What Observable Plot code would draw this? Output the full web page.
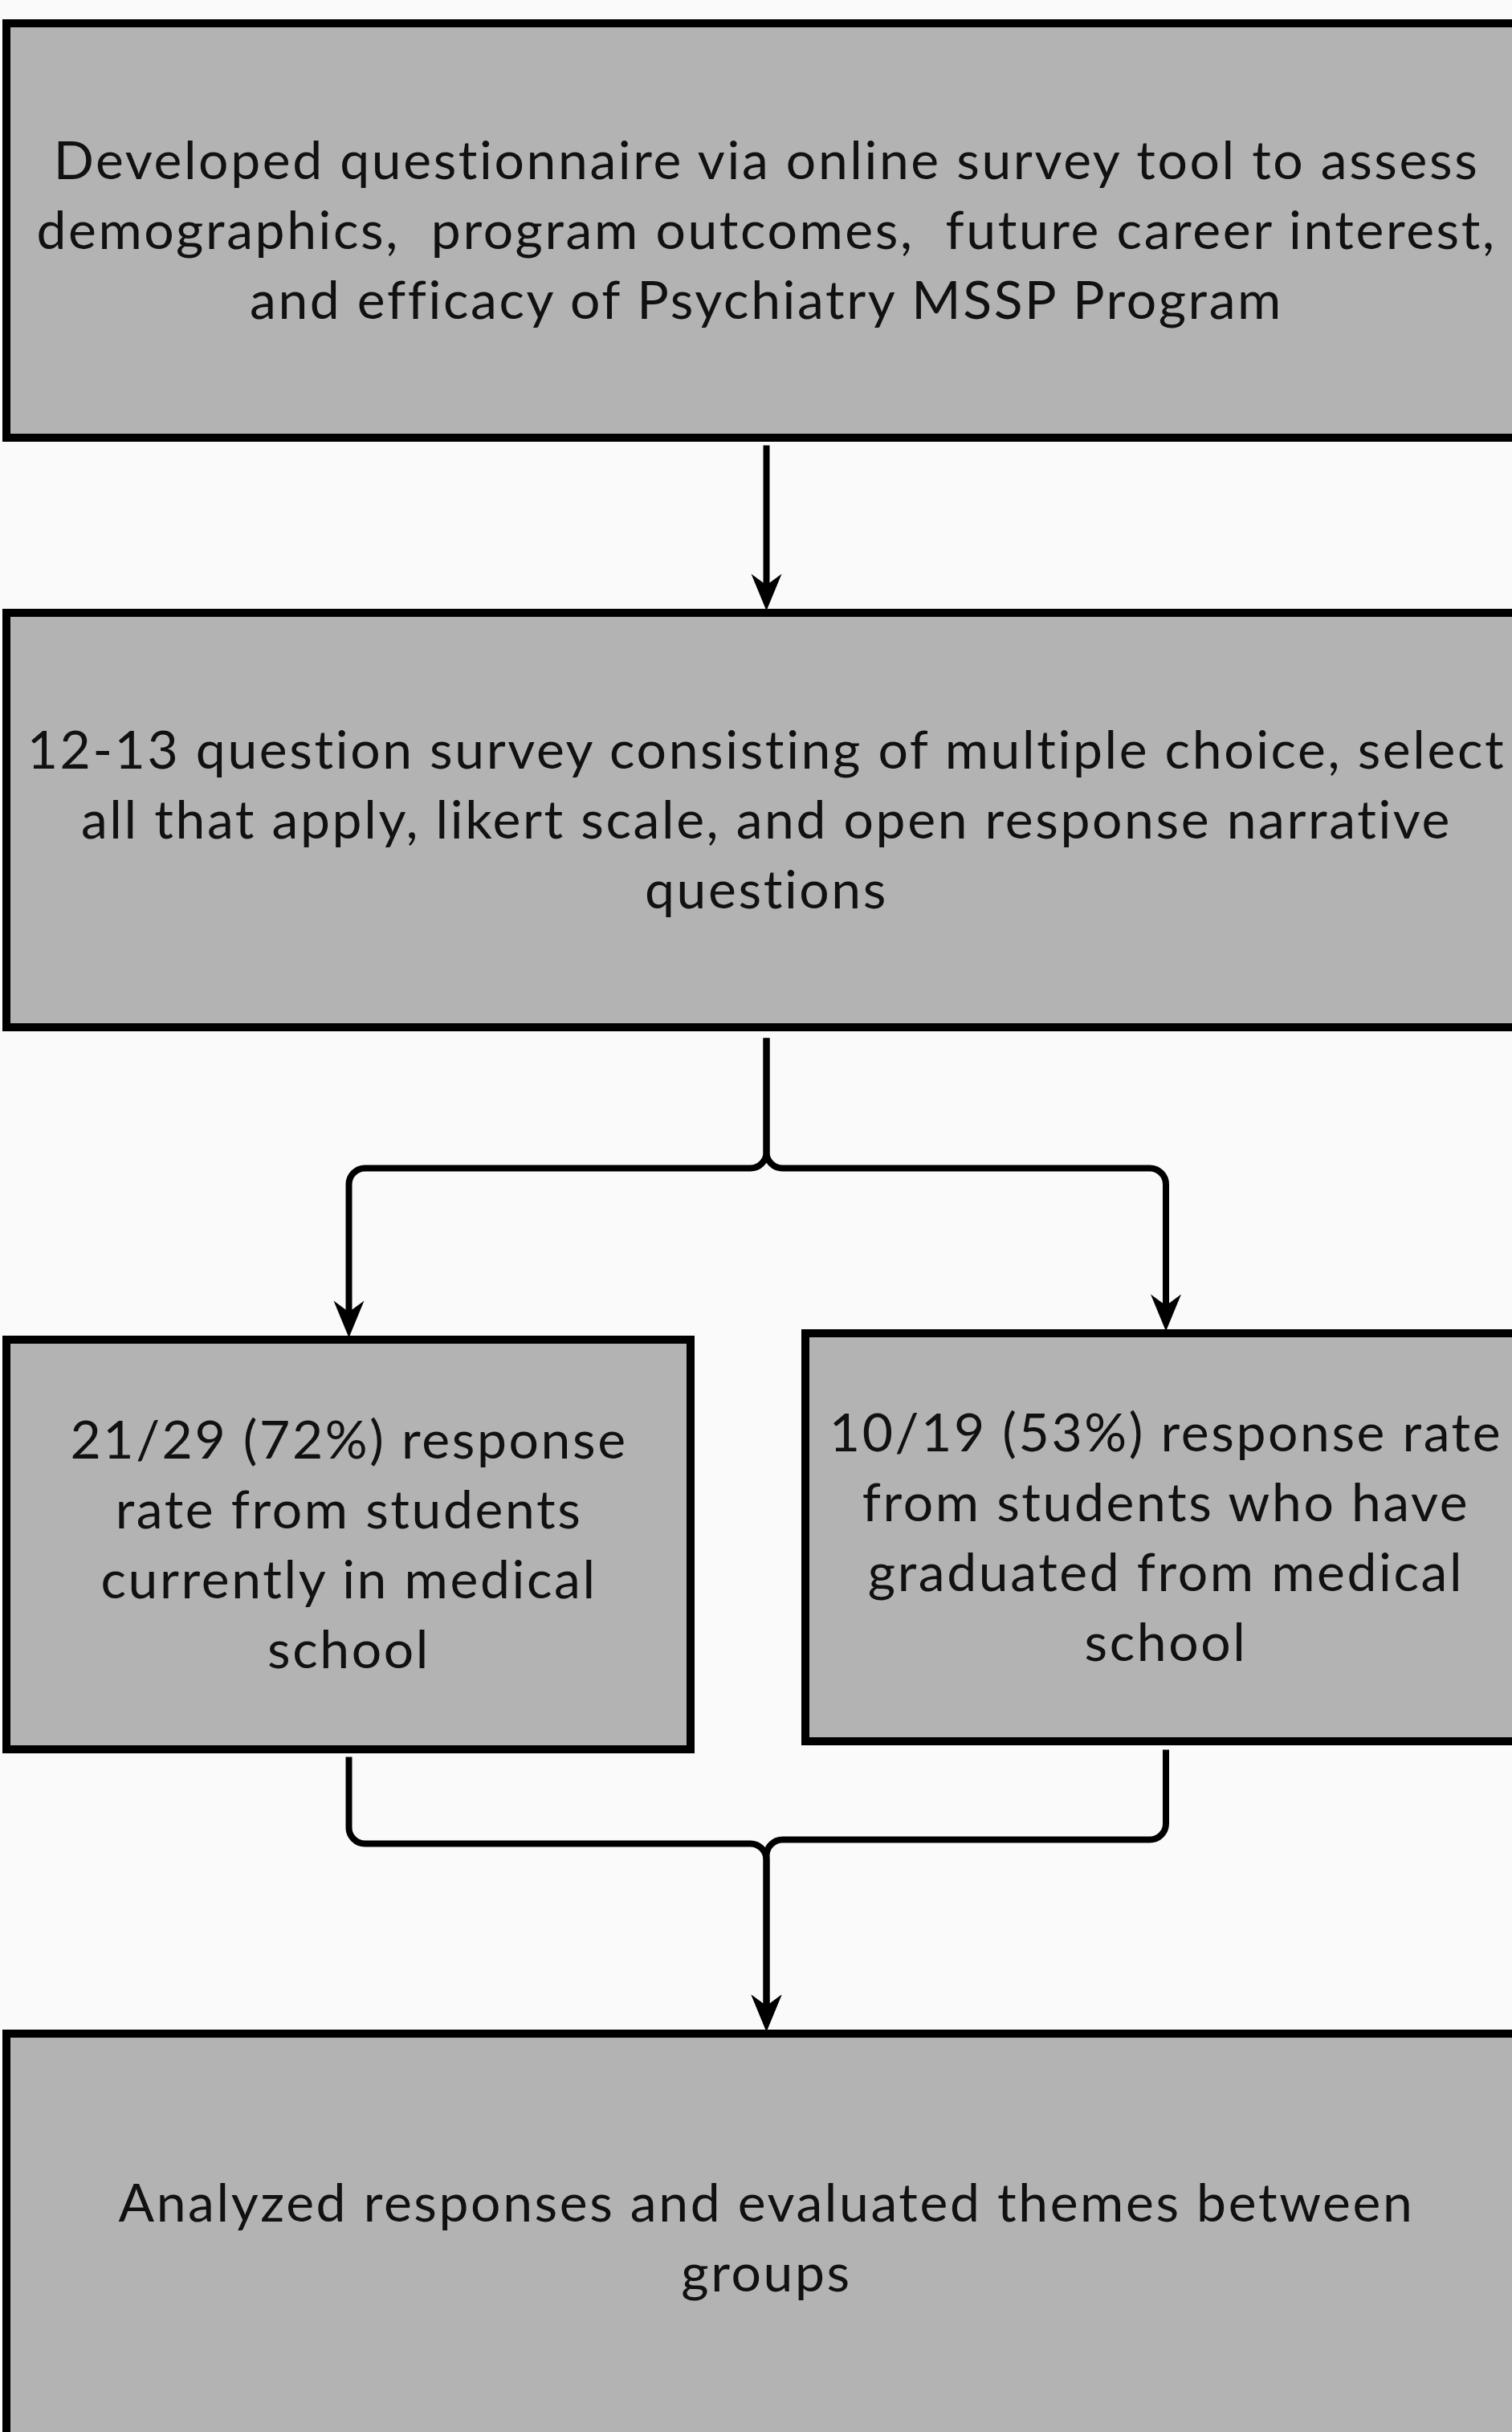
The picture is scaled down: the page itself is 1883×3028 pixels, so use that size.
<!DOCTYPE html>
<html>
<head>
<meta charset="utf-8">
<script src="https://cdn.jsdelivr.net/npm/d3@7"></script>
<script src="https://cdn.jsdelivr.net/npm/@observablehq/plot@0.6"></script>
<style>
  html, body { margin: 0; padding: 0; background: #fafafa; }
  #chart svg { display: block; background: #fafafa; overflow: hidden; }
  #chart svg text { white-space: pre; letter-spacing: 2.6px; }
</style>
</head>
<body>
<div id="chart"></div>
<script>
// ---------- data ----------
const stepIds = ["design", "survey", "current", "graduated", "analysis"];
const responded = [21, 10];
const invited = [29, 19];
const ratePct = [72, 53];
const stepTexts = [
  "Developed questionnaire via online survey tool to assess\ndemographics,  program outcomes,  future career interest,\nand efficacy of Psychiatry MSSP Program",
  "12-13 question survey consisting of multiple choice, select\nall that apply, likert scale, and open response narrative\nquestions",
  `${responded[0]}/${invited[0]} (${ratePct[0]}%) response\nrate from students\ncurrently in medical\nschool`,
  `${responded[1]}/${invited[1]} (${ratePct[1]}%) response rate\nfrom students who have\ngraduated from medical\nschool`,
  "Analyzed responses and evaluated themes between\ngroups"
];
const linkFrom = ["design", "survey", "survey", "current", "graduated"];
const linkTo   = ["survey", "current", "graduated", "analysis", "analysis"];

// ---------- layout (diagram units = pixels) ----------
const W = 1883, H = 3028;
const layout = {
  design:    {x1: 8,    x2: 1900, y1: 29,   y2: 545},
  survey:    {x1: 8,    x2: 1900, y1: 763,  y2: 1279},
  current:   {x1: 8,    x2: 860,  y1: 1668, y2: 2178},
  graduated: {x1: 1003, x2: 1900, y1: 1660, y2: 2168},
  analysis:  {x1: 8,    x2: 1900, y1: 2532, y2: 3040}
};
// horizontal bus level for each link (null = straight)
const busY = [null, 1454, 1454, 2295, 2290];
const startGap = [9, 13, 13, 9, 10];

const nodes = stepIds.map((id, i) => {
  const b = layout[id];
  return {id, text: stepTexts[i], ...b, cx: (b.x1 + b.x2) / 2, cy: (b.y1 + b.y2) / 2 - 5};
});
const byId = Object.fromEntries(nodes.map(d => [d.id, d]));

const linkPts = [];
const heads = [];
linkFrom.forEach((f, i) => {
  const a = byId[f], b = byId[linkTo[i]];
  const y0 = a.y2 + startGap[i];
  const yEnd = b.y1 - 20;
  if (busY[i] == null) {
    linkPts.push({k: i, x: a.cx, y: y0}, {k: i, x: b.cx, y: yEnd});
  } else {
    linkPts.push({k: i, x: a.cx, y: y0}, {k: i, x: a.cx, y: busY[i]},
                 {k: i, x: b.cx, y: busY[i]}, {k: i, x: b.cx, y: yEnd});
  }
  heads.push({x: b.cx, y: b.y1 - 3});
});

// rounded-corner polyline curve
function roundedCurve(radius) {
  return function(context) {
    let pts = [];
    return {
      areaStart() {}, areaEnd() {},
      lineStart() { pts = []; },
      point(x, y) { pts.push([+x, +y]); },
      lineEnd() {
        if (!pts.length) return;
        context.moveTo(pts[0][0], pts[0][1]);
        for (let j = 1; j < pts.length - 1; j++) {
          context.arcTo(pts[j][0], pts[j][1], pts[j + 1][0], pts[j + 1][1], radius);
        }
        const last = pts[pts.length - 1];
        context.lineTo(last[0], last[1]);
      }
    };
  };
}

// barbed arrowhead, tip at origin pointing down
const arrowHead = {
  draw(context) {
    context.moveTo(0, 0);
    context.lineTo(-19, -46);
    context.lineTo(0, -32);
    context.lineTo(19, -46);
    context.closePath();
  }
};

const chart = Plot.plot({
  width: W,
  height: H,
  margin: 0,
  style: {background: "#fafafa"},
  x: {domain: [0, W], range: [0, W], axis: null},
  y: {domain: [0, H], range: [0, H], axis: null},
  marks: [
    Plot.line(linkPts, {x: "x", y: "y", z: "k", stroke: "#000", strokeWidth: 8,
      curve: roundedCurve(20), strokeLinecap: "butt", strokeLinejoin: "round"}),
    Plot.dot(heads, {x: "x", y: "y", symbol: arrowHead, fill: "#000", stroke: "none", r: 10}),
    Plot.rect(nodes, {x1: "x1", x2: "x2", y1: "y1", y2: (d) => d.y2, fill: "#b3b3b3", stroke: "#000", strokeWidth: 10}),
    Plot.text(nodes, {x: "cx", y: "cy", text: "text", fontSize: 66, lineHeight: 1.318,
      fill: "#111", fontFamily: "Lato", textAnchor: "middle", lineAnchor: "middle"})
  ]
});
document.getElementById("chart").appendChild(chart);
</script>
</body>
</html>
